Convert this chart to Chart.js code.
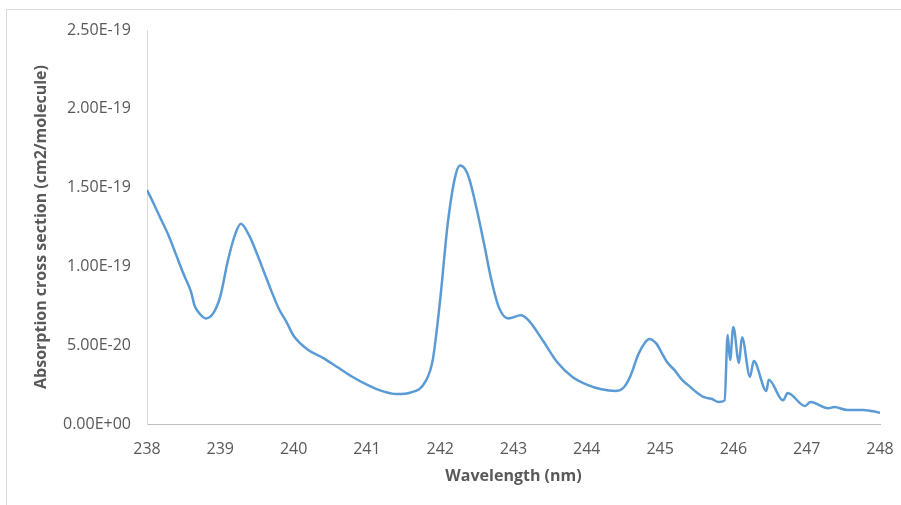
<!DOCTYPE html>
<html>
<head>
<meta charset="utf-8">
<script src="https://cdn.jsdelivr.net/npm/chart.js@4/dist/chart.umd.min.js"></script>
<style>
html,body{margin:0;padding:0;background:#fff;}
#wrap{position:relative;width:901px;height:505px;}
</style>
</head>
<body>
<div id="wrap"><canvas id="c" width="901" height="505"></canvas></div>
<script>
// Wavelength (nm)
const wavelengths = [
  238.0, 238.1, 238.2, 238.3, 238.4, 238.5, 238.6, 238.65, 238.7, 238.8, 238.9,
  239.0, 239.1, 239.2, 239.28, 239.4, 239.5, 239.6, 239.7, 239.8, 239.9,
  240.0, 240.2, 240.4, 240.6, 240.8, 241.0, 241.2, 241.4, 241.6, 241.8, 241.9,
  242.0, 242.1, 242.2, 242.27, 242.35, 242.4, 242.5, 242.6, 242.7, 242.8, 242.93,
  243.1, 243.2, 243.4, 243.6, 243.8, 244.0, 244.2, 244.4, 244.5, 244.6,
  244.7, 244.8, 244.85, 244.95, 245.0, 245.1, 245.2, 245.3, 245.4, 245.5, 245.6,
  245.7, 245.8, 245.88, 245.922, 245.954, 245.999, 246.076, 246.117, 246.226,
  246.277, 246.45, 246.482, 246.677, 246.741, 246.977, 247.05, 247.295, 247.376,
  247.554, 247.772, 248.0
];
// Absorption cross section, in units of 1E-20 cm2/molecule
const crossSection1e20 = [
  14.85, 13.9, 12.9, 11.9, 10.7, 9.5, 8.4, 7.5, 7.1, 6.7, 7.0,
  8.1, 10.3, 12.0, 12.7, 11.9, 10.8, 9.6, 8.4, 7.3, 6.5,
  5.6, 4.7, 4.2, 3.6, 3.0, 2.5, 2.1, 1.9, 2.0, 2.7, 4.1,
  7.9, 12.6, 15.6, 16.4, 16.1, 15.5, 13.6, 11.4, 9.1, 7.4, 6.7,
  6.9, 6.6, 5.3, 3.9, 3.0, 2.5, 2.2, 2.1, 2.3, 3.1,
  4.4, 5.2, 5.4, 5.1, 4.7, 3.9, 3.4, 2.8, 2.4, 2.0, 1.7,
  1.6, 1.4, 1.5, 5.65, 4.06, 6.15, 3.87, 5.5, 3.0,
  4.0, 2.1, 2.8, 1.5, 1.97, 1.14, 1.4, 1.0, 1.08,
  0.89, 0.89, 0.72
];
const xTicks = [238, 239, 240, 241, 242, 243, 244, 245, 246, 247, 248];
const yTickLabels = ["0.00E+00", "5.00E-20", "1.00E-19", "1.50E-19", "2.00E-19", "2.50E-19"];

const points = wavelengths.map((w, i) => ({x: w, y: crossSection1e20[i] * 1e-20}));

const borderPlugin = {
  id: 'outerBorder',
  beforeDraw(chart) {
    const ctx = chart.ctx;
    ctx.save();
    ctx.fillStyle = '#fff';
    ctx.fillRect(0, 0, chart.width, chart.height);
    ctx.strokeStyle = '#D9D9D9';
    ctx.lineWidth = 1;
    ctx.beginPath();
    ctx.moveTo(6.5, 505);
    ctx.lineTo(6.5, 9.5);
    ctx.lineTo(901, 9.5);
    ctx.stroke();
    ctx.restore();
  }
};

new Chart(document.getElementById('c'), {
  type: 'line',
  data: {
    datasets: [{
      data: points,
      borderColor: '#5B9BD5',
      borderWidth: 2.5,
      pointRadius: 0,
      fill: false,
      cubicInterpolationMode: 'monotone'
    }]
  },
  options: {
    responsive: false,
    animation: false,
    events: [],
    layout: {padding: {top: 30, right: 21, left: 0, bottom: 0}},
    plugins: {legend: {display: false}, tooltip: {enabled: false}},
    scales: {
      x: {
        type: 'linear',
        min: 238, max: 248,
        afterFit(s) { s.height = 81; s.paddingLeft = 0; s.paddingRight = 0; },
        afterBuildTicks(s) { s.ticks = xTicks.map(v => ({value: v})); },
        grid: {display: false, drawTicks: false},
        border: {display: true, color: '#BFBFBF', width: 1},
        ticks: {
          color: '#595959', padding: 16,
          font: {family: 'Open Sans', size: 16},
          maxRotation: 0, autoSkip: false,
          callback: v => String(v)
        },
        title: {
          display: true, text: 'Wavelength (nm)', color: '#595959',
          font: {family: 'Open Sans', size: 16, weight: 'bold'},
          padding: {top: 0, bottom: 19}
        }
      },
      y: {
        min: 0, max: 2.5e-19,
        afterFit(s) { s.width = 147; s.paddingTop = 0; s.paddingBottom = 0; },
        afterBuildTicks(s) { s.ticks = yTickLabels.map((t, i) => ({value: i * 5e-20})); },
        grid: {display: false, drawTicks: false},
        border: {display: true, color: '#D9D9D9', width: 1},
        ticks: {
          color: '#595959', padding: 16,
          font: {family: 'Open Sans', size: 16},
          autoSkip: false,
          callback: (v, i) => yTickLabels[i]
        },
        title: {
          display: true, text: 'Absorption cross section (cm2/molecule)', color: '#595959',
          font: {family: 'Open Sans', size: 16, weight: 'bold'},
          padding: {top: 32, bottom: 0}
        }
      }
    }
  },
  plugins: [borderPlugin]
});
</script>
</body>
</html>
